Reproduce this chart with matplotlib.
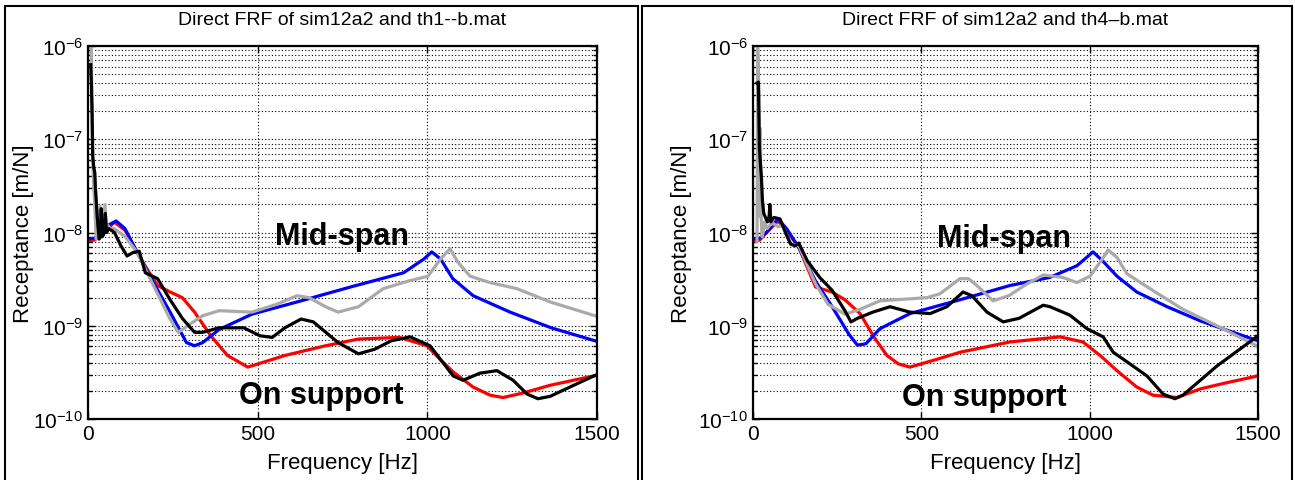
import matplotlib
matplotlib.use("Agg")
import matplotlib.pyplot as plt
from matplotlib.patches import Rectangle
from matplotlib.ticker import FixedLocator, NullFormatter, LogFormatterSciNotation

plt.rcParams['font.family'] = ['Liberation Sans', 'DejaVu Sans']
plt.rcParams['mathtext.fontset'] = 'custom'
plt.rcParams['mathtext.rm'] = 'Liberation Sans'
plt.rcParams['mathtext.it'] = 'Liberation Sans:italic'
plt.rcParams['mathtext.bf'] = 'Liberation Sans:bold'

# ---------------- data: left panel (th1--b) ----------------
red_L_f = [0, 20, 40, 78, 110, 145, 175, 205, 242, 278, 314, 362, 411, 471, 580, 700, 797, 918, 999,
           1039, 1076, 1135, 1185, 1223, 1282, 1362, 1500]
red_L_v = [8.1e-9, 8.3e-9, 9.5e-9, 1.29e-8, 1.05e-8, 6.1e-9, 4.0e-9, 2.7e-9, 2.3e-9, 2.0e-9, 1.4e-9,
           7.8e-10, 4.8e-10, 3.6e-10, 4.8e-10, 6.1e-10, 7.2e-10, 7.5e-10, 6.1e-10,
           4.3e-10, 3.2e-10, 2.2e-10, 1.8e-10, 1.7e-10, 1.9e-10, 2.3e-10, 2.95e-10]

blue_L_f = [0, 20, 40, 60, 83, 109, 145, 193, 242, 290, 314, 338, 386, 483, 628, 773, 930, 990, 1013,
            1039, 1075, 1135, 1244, 1365, 1500]
blue_L_v = [8.5e-9, 8.7e-9, 1.0e-8, 1.2e-8, 1.33e-8, 1.1e-8, 6.1e-9, 2.9e-9, 1.4e-9, 6.6e-10, 6.1e-10,
            6.6e-10, 9.1e-10, 1.33e-9, 1.85e-9, 2.6e-9, 3.7e-9, 5.2e-9, 6.2e-9, 5.2e-9, 3.2e-9,
            2.1e-9, 1.4e-9, 9.5e-10, 6.8e-10]

gray_L_f = [9, 10, 12, 14, 17, 20, 24, 30, 36, 40, 44, 50, 54, 58, 65, 78, 110, 145, 193, 242, 266,
            302, 338, 386, 483, 556, 616, 652, 700, 737, 797, 870, 942, 1002, 1039, 1067, 1090,
            1126, 1185, 1264, 1362, 1500]
gray_L_v = [9.5e-7, 9.2e-7, 1.5e-7, 6e-8, 3e-8, 2e-8, 8.5e-9, 1.0e-8, 1.9e-8, 1.0e-8, 1.1e-8, 2.0e-8,
            1.1e-8, 1.2e-8, 1.1e-8, 1.1e-8, 9e-9, 6.1e-9, 2.7e-9, 1.18e-9, 8.5e-10, 1.05e-9, 1.28e-9,
            1.45e-9, 1.4e-9, 1.7e-9, 2.1e-9, 2.0e-9, 1.6e-9, 1.4e-9, 1.6e-9, 2.5e-9, 3.0e-9, 3.4e-9,
            5.2e-9, 6.7e-9, 4.8e-9, 3.4e-9, 2.9e-9, 2.5e-9, 1.8e-9, 1.26e-9]

black_L_f = [8, 10, 12, 14, 17, 20, 22, 24, 27, 30, 33, 36, 39, 42, 46, 51, 55, 60, 70, 78, 97, 115,
             133, 151, 169, 205, 242, 278, 314, 338, 386, 459, 507, 543, 580, 628, 664, 737, 797,
             845, 894, 949, 1008, 1076, 1105, 1155, 1205, 1253, 1294, 1326, 1362, 1420, 1500]
black_L_v = [6.3e-7, 4e-7, 2e-7, 6.6e-8, 5e-8, 4.4e-8, 3e-8, 2.3e-8, 1.5e-8, 1.1e-8, 8.5e-9, 9.0e-9,
             1.8e-8, 9e-9, 9.5e-9, 1.6e-8, 1.0e-8, 1.1e-8, 1.05e-8, 1.0e-8, 7.2e-9, 5.6e-9, 6.1e-9,
             6.3e-9, 3.7e-9, 3.2e-9, 1.9e-9, 1.2e-9, 8.5e-10, 8.5e-10, 9.5e-10, 9.5e-10, 7.8e-10,
             7.5e-10, 9.5e-10, 1.18e-9, 1.1e-9, 6.6e-10, 5.0e-10, 5.6e-10, 6.9e-10, 7.6e-10,
             6.1e-10, 2.9e-10, 2.6e-10, 3.1e-10, 3.3e-10, 2.6e-10, 1.85e-10, 1.65e-10, 1.75e-10,
             2.2e-10, 3.0e-10]

# ---------------- data: right panel (th4-b) ----------------
red_R_f = [0, 20, 40, 74, 100, 136, 186, 235, 273, 318, 360, 398, 432, 466, 540, 615, 763, 912, 980,
           1031, 1081, 1140, 1188, 1259, 1328, 1396, 1500]
red_R_v = [8.1e-9, 8.3e-9, 1.0e-8, 1.33e-8, 1.05e-8, 6.9e-9, 2.6e-9, 2.3e-9, 1.9e-9, 1.35e-9, 7.5e-10,
           4.8e-10, 3.9e-10, 3.6e-10, 4.3e-10, 5.2e-10, 6.7e-10, 7.6e-10, 6.7e-10, 4.8e-10, 3.3e-10,
           2.2e-10, 1.8e-10, 1.7e-10, 2.1e-10, 2.4e-10, 2.9e-10]

blue_R_f = [0, 20, 40, 74, 100, 136, 186, 235, 285, 310, 335, 377, 466, 615, 763, 882, 962, 1010, 1040,
            1081, 1140, 1230, 1328, 1426, 1500]
blue_R_v = [8.5e-9, 8.7e-9, 1.0e-8, 1.4e-8, 1.1e-8, 6.9e-9, 3.0e-9, 1.6e-9, 8.1e-10, 6.2e-10, 6.4e-10,
            9.3e-10, 1.35e-9, 1.9e-9, 2.7e-9, 3.3e-9, 4.4e-9, 6.2e-9, 4.9e-9, 3.4e-9, 2.3e-9, 1.6e-9,
            1.13e-9, 8.5e-10, 6.9e-10]

gray_R_f = [12, 14, 16, 18, 20, 22, 24, 27, 30, 34, 38, 42, 50, 60, 75, 87, 112, 136, 186, 223, 273,
            318, 377, 517, 555, 615, 640, 665, 713, 760, 813, 862, 920, 962, 1001, 1031, 1055, 1081,
            1111, 1179, 1277, 1378, 1500]
gray_R_v = [8e-9, 9.5e-7, 5e-7, 3e-7, 1.5e-8, 1.3e-7, 1.5e-8, 9e-9, 1.0e-8, 1.3e-8, 1.2e-8, 1.1e-8,
            1.2e-8, 1.25e-8, 1.15e-8, 1.2e-8, 7.5e-9, 7.2e-9, 2.8e-9, 1.7e-9, 1.33e-9, 1.5e-9,
            1.85e-9, 2.0e-9, 2.2e-9, 3.2e-9, 3.2e-9, 2.7e-9, 1.85e-9, 2.1e-9, 2.8e-9, 3.5e-9, 3.3e-9,
            2.9e-9, 3.4e-9, 4.8e-9, 6.5e-9, 5.4e-9, 3.6e-9, 2.5e-9, 1.5e-9, 1.0e-9, 6.0e-10]

black_R_f = [12, 16, 19, 22, 25, 28, 32, 37, 43, 48, 50, 53, 62, 80, 99, 112, 125, 136, 161, 198, 235,
             273, 291, 310, 356, 407, 466, 526, 576, 624, 650, 695, 743, 790, 862, 882, 941, 992,
             1040, 1070, 1111, 1170, 1218, 1253, 1277, 1378, 1500]
black_R_v = [4e-7, 4.1e-7, 8.1e-8, 5.5e-8, 3.9e-8, 2.2e-8, 1.6e-8, 1.45e-8, 1.3e-8, 1.5e-8, 2.0e-8,
             1.3e-8, 1.45e-8, 1.4e-8, 9.5e-9, 7.5e-9, 7.2e-9, 7.7e-9, 5.0e-9, 3.3e-9, 2.4e-9, 1.45e-9,
             1.1e-9, 1.2e-9, 1.4e-9, 1.6e-9, 1.4e-9, 1.35e-9, 1.6e-9, 2.3e-9, 2.1e-9, 1.4e-9, 1.1e-9,
             1.2e-9, 1.66e-9, 1.6e-9, 1.3e-9, 9.3e-10, 7.6e-10, 5.2e-10, 4.1e-10, 2.9e-10, 1.85e-10,
             1.65e-10, 1.8e-10, 3.7e-10, 7.8e-10]

titles = ["Direct FRF of sim12a2 and th1--b.mat", "Direct FRF of sim12a2 and th4\u2013b.mat"]
x_ticks = [0, 500, 1000, 1500]
y_ticks = [1e-10, 1e-9, 1e-8, 1e-7, 1e-6]
x_label = "Frequency [Hz]"
y_label = "Receptance [m/N]"
label_mid = "Mid-span"
label_support = "On support"

panels = [
    dict(series=[(red_L_f, red_L_v, '#ff0000'), (blue_L_f, blue_L_v, '#0000ff'),
                 (gray_L_f, gray_L_v, '#aaaaaa'), (black_L_f, black_L_v, '#000000')],
         title=titles[0], rect=[88/1295, 61/481, 509/1295, 373/481],
         mid=(748, 7.6e-9), sup=(687, 1.48e-10), ylx=-0.106),
    dict(series=[(red_R_f, red_R_v, '#ff0000'), (blue_R_f, blue_R_v, '#0000ff'),
                 (gray_R_f, gray_R_v, '#aaaaaa'), (black_R_f, black_R_v, '#000000')],
         title=titles[1], rect=[753/1295, 61/481, 505/1295, 373/481],
         mid=(746, 7.2e-9), sup=(686, 1.42e-10), ylx=-0.121),
]

minor_ticks = [m * d for d in y_ticks[:-1] for m in range(2, 10)]

fig = plt.figure(figsize=(12.95, 4.81), dpi=100)
fig.patch.set_facecolor('white')

for p in panels:
    ax = fig.add_axes(p['rect'])
    for f, v, c in p['series']:
        ax.plot(f, v, color=c, lw=2.3, solid_joinstyle='round')
    ax.set_yscale('log')
    ax.set_xlim(0, 1500)
    ax.set_ylim(1e-10, 1e-6)
    ax.xaxis.set_major_locator(FixedLocator(x_ticks))
    ax.yaxis.set_major_locator(FixedLocator(y_ticks))
    ax.yaxis.set_major_formatter(LogFormatterSciNotation())
    ax.yaxis.set_minor_locator(FixedLocator(minor_ticks))
    ax.yaxis.set_minor_formatter(NullFormatter())
    ax.grid(True, which='major', axis='x', color='black', linestyle=(0, (1, 2)), lw=0.8)
    ax.grid(True, which='both', axis='y', color='black', linestyle=(0, (1, 2)), lw=0.8)
    ax.tick_params(which='both', direction='in', top=True, right=True, labelsize=15, width=1.0)
    ax.tick_params(which='major', length=5)
    ax.tick_params(which='minor', length=3)
    for s in ax.spines.values():
        s.set_linewidth(1.6)
    ax.set_title(p['title'], fontsize=14, pad=16)
    ax.set_xlabel(x_label, fontsize=16)
    ax.xaxis.set_label_coords(0.5, -0.088)
    ax.set_ylabel(y_label, fontsize=16)
    ax.yaxis.set_label_coords(p['ylx'], 0.5)
    ax.text(p['mid'][0], p['mid'][1], label_mid, fontsize=22, fontweight='bold',
            ha='center', va='baseline')
    ax.text(p['sup'][0], p['sup'][1], label_support, fontsize=22, fontweight='bold',
            ha='center', va='baseline')

# panel borders
fig.add_artist(Rectangle((5/1295, -0.05), 633/1295, (481-7)/481 + 0.05, transform=fig.transFigure,
                         fill=False, lw=1.5, edgecolor='black'))
fig.add_artist(Rectangle((642/1295, -0.05), 650/1295, (481-7)/481 + 0.05, transform=fig.transFigure,
                         fill=False, lw=1.5, edgecolor='black'))

fig.savefig('out.png', dpi=100)
